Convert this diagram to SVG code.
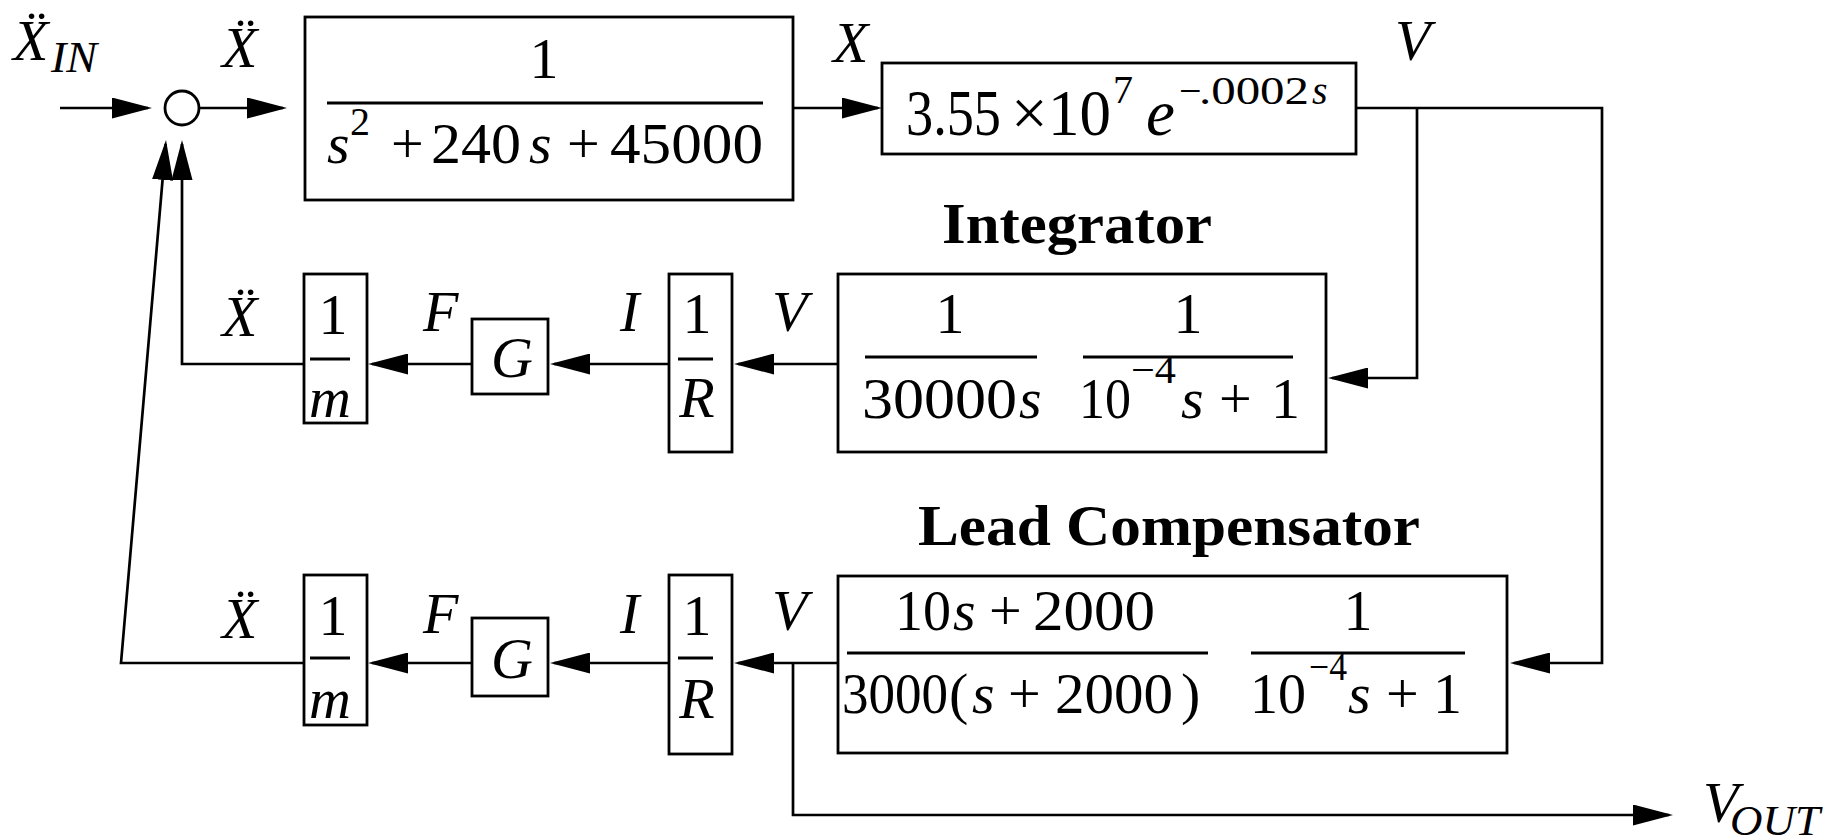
<svg xmlns="http://www.w3.org/2000/svg" width="1835" height="836" viewBox="0 0 1835 836">
<style>
.bx{fill:none;stroke:#000;stroke-width:2.8}
.ln{fill:none;stroke:#000;stroke-width:2.7}
.fr{stroke:#000;stroke-width:2.8}
text{font-family:"Liberation Serif","Times New Roman",serif;fill:#000}
.i{font-style:italic}
.m{font-size:58px}
.b{font-size:65px}
.s{font-size:40px}
.h{font-weight:bold;font-size:56px}
</style>
<defs>
<marker id="ah" viewBox="0 0 40 21" refX="36" refY="10.5" markerWidth="40" markerHeight="21" markerUnits="userSpaceOnUse" orient="auto"><path d="M0,0L40,10.5L0,21z" fill="#000"/></marker>
</defs>
<rect width="1835" height="836" fill="#fff"/>

<g id="connectors">
<path class="ln" d="M60,108H148" marker-end="url(#ah)"/>
<path class="ln" d="M199,108H283" marker-end="url(#ah)"/>
<path class="ln" d="M793,108H878" marker-end="url(#ah)"/>
<path class="ln" d="M1356,108H1602V663H1514" marker-end="url(#ah)"/>
<path class="ln" d="M1417,108V378H1332" marker-end="url(#ah)"/>
<path class="ln" d="M838,364H738" marker-end="url(#ah)"/>
<path class="ln" d="M669,364H554" marker-end="url(#ah)"/>
<path class="ln" d="M472,364H372" marker-end="url(#ah)"/>
<path class="ln" d="M304,364H182V144" marker-end="url(#ah)"/>
<path class="ln" d="M838,663H738" marker-end="url(#ah)"/>
<path class="ln" d="M669,663H554" marker-end="url(#ah)"/>
<path class="ln" d="M472,663H372" marker-end="url(#ah)"/>
<path class="ln" d="M304,663H121L165.66,143.99" marker-end="url(#ah)"/>
<path class="ln" d="M793,663V815H1669" marker-end="url(#ah)"/>
</g>

<g id="labels">
<text class="i m" x="13" y="60">Ẍ</text><text class="i" x="51" y="72" font-size="44" textLength="46" lengthAdjust="spacingAndGlyphs">IN</text>
<text class="i m" x="222" y="67">Ẍ</text>
<text class="i m" x="833" y="62">X</text>
<text class="i m" x="1395" y="60">V</text>
<text class="i m" x="222" y="336">Ẍ</text>
<text class="i m" x="423" y="331">F</text>
<text class="i m" x="620" y="331">I</text>
<text class="i m" x="772" y="331">V</text>
<text class="i m" x="222" y="638">Ẍ</text>
<text class="i m" x="423" y="633">F</text>
<text class="i m" x="620" y="633">I</text>
<text class="i m" x="772" y="630">V</text>
<text class="i m" x="1703" y="822">V</text><text class="i" x="1730" y="835" font-size="42" textLength="90" lengthAdjust="spacingAndGlyphs">OUT</text>
</g>

<g id="sum">
<circle cx="182" cy="108" r="17" class="bx"/>
</g>

<g id="plant">
<rect class="bx" x="305" y="17" width="488" height="183"/>
<text class="m" x="544" y="78" text-anchor="middle">1</text>
<line class="fr" x1="327" y1="103" x2="763" y2="103"/>
<text class="m i" x="327" y="163">s</text>
<text class="s" x="350" y="135">2</text>
<text class="m" x="391" y="163">+</text>
<text class="m" x="431" y="163" textLength="90" lengthAdjust="spacingAndGlyphs">240</text>
<text class="m i" x="529" y="163">s</text>
<text class="m" x="567" y="163">+</text>
<text class="m" x="610" y="163" textLength="153" lengthAdjust="spacingAndGlyphs">45000</text>
</g>

<g id="sensor">
<rect class="bx" x="882" y="63" width="474" height="91"/>
<text class="b" x="906" y="135" textLength="95" lengthAdjust="spacingAndGlyphs">3.55</text>
<text class="b" x="1011" y="135">×</text>
<text class="b" x="1048" y="135" textLength="63" lengthAdjust="spacingAndGlyphs">10</text>
<text class="s" x="1113" y="103" font-size="44">7</text>
<text class="b i" x="1146" y="135">e</text>
<text class="s" x="1179" y="104" font-size="44">−</text>
<text class="s" x="1199" y="104" font-size="44" textLength="110" lengthAdjust="spacingAndGlyphs">.0002</text>
<text class="s i" x="1312" y="104" font-size="44">s</text>
</g>

<g id="integrator">
<text class="h" x="942" y="243" textLength="270" lengthAdjust="spacingAndGlyphs">Integrator</text>
<rect class="bx" x="838" y="274" width="488" height="178"/>
<text class="m" x="950" y="333" text-anchor="middle">1</text>
<line class="fr" x1="865" y1="357" x2="1037" y2="357"/>
<text class="m" x="862" y="418" textLength="155" lengthAdjust="spacingAndGlyphs">30000</text>
<text class="m i" x="1019" y="418">s</text>
<text class="m" x="1188" y="333" text-anchor="middle">1</text>
<line class="fr" x1="1083" y1="357" x2="1293" y2="357"/>
<text class="m" x="1079" y="418" textLength="52" lengthAdjust="spacingAndGlyphs">10</text>
<text class="s" x="1131" y="383" textLength="45" lengthAdjust="spacingAndGlyphs">−4</text>
<text class="m i" x="1181" y="418">s</text>
<text class="m" x="1219" y="418">+</text>
<text class="m" x="1271" y="418">1</text>
</g>

<g id="r1-inv-r">
<rect class="bx" x="669" y="274" width="63" height="178"/>
<text class="m" x="697" y="333" text-anchor="middle">1</text>
<line class="fr" x1="678" y1="359" x2="713" y2="359"/>
<text class="m i" x="697" y="417" text-anchor="middle">R</text>
</g>
<g id="r1-g">
<rect class="bx" x="472" y="319" width="76" height="75"/>
<text class="m i" x="512" y="377" text-anchor="middle">G</text>
</g>
<g id="r1-inv-m">
<rect class="bx" x="304" y="274" width="63" height="149"/>
<text class="m" x="333" y="334" text-anchor="middle">1</text>
<line class="fr" x1="310" y1="359" x2="350" y2="359"/>
<text class="m i" x="330" y="417" text-anchor="middle">m</text>
</g>

<g id="lead">
<text class="h" x="918" y="545" textLength="502" lengthAdjust="spacingAndGlyphs">Lead Compensator</text>
<rect class="bx" x="838" y="576" width="669" height="177"/>
<text class="m" x="895" y="630" textLength="56" lengthAdjust="spacingAndGlyphs">10</text>
<text class="m i" x="953" y="630">s</text>
<text class="m" x="989" y="630">+</text>
<text class="m" x="1033" y="630" textLength="122" lengthAdjust="spacingAndGlyphs">2000</text>
<line class="fr" x1="847" y1="653" x2="1208" y2="653"/>
<text class="m" x="842" y="713" textLength="106" lengthAdjust="spacingAndGlyphs">3000</text>
<text class="m" x="949" y="713" font-size="70">(</text>
<text class="m i" x="972" y="713">s</text>
<text class="m" x="1008" y="713">+</text>
<text class="m" x="1055" y="713" textLength="118" lengthAdjust="spacingAndGlyphs">2000</text>
<text class="m" x="1181" y="713" font-size="70">)</text>
<text class="m" x="1358" y="630" text-anchor="middle">1</text>
<line class="fr" x1="1251" y1="653" x2="1465" y2="653"/>
<text class="m" x="1250" y="713" textLength="56" lengthAdjust="spacingAndGlyphs">10</text>
<text class="s" x="1309" y="680" textLength="38" lengthAdjust="spacingAndGlyphs">−4</text>
<text class="m i" x="1348" y="713">s</text>
<text class="m" x="1386" y="713">+</text>
<text class="m" x="1433" y="713">1</text>
</g>

<g id="r2-inv-r">
<rect class="bx" x="669" y="575" width="63" height="179"/>
<text class="m" x="697" y="635" text-anchor="middle">1</text>
<line class="fr" x1="678" y1="658" x2="713" y2="658"/>
<text class="m i" x="697" y="718" text-anchor="middle">R</text>
</g>
<g id="r2-g">
<rect class="bx" x="472" y="618" width="76" height="78"/>
<text class="m i" x="512" y="678" text-anchor="middle">G</text>
</g>
<g id="r2-inv-m">
<rect class="bx" x="304" y="575" width="63" height="150"/>
<text class="m" x="333" y="635" text-anchor="middle">1</text>
<line class="fr" x1="310" y1="658" x2="350" y2="658"/>
<text class="m i" x="330" y="718" text-anchor="middle">m</text>
</g>
</svg>
